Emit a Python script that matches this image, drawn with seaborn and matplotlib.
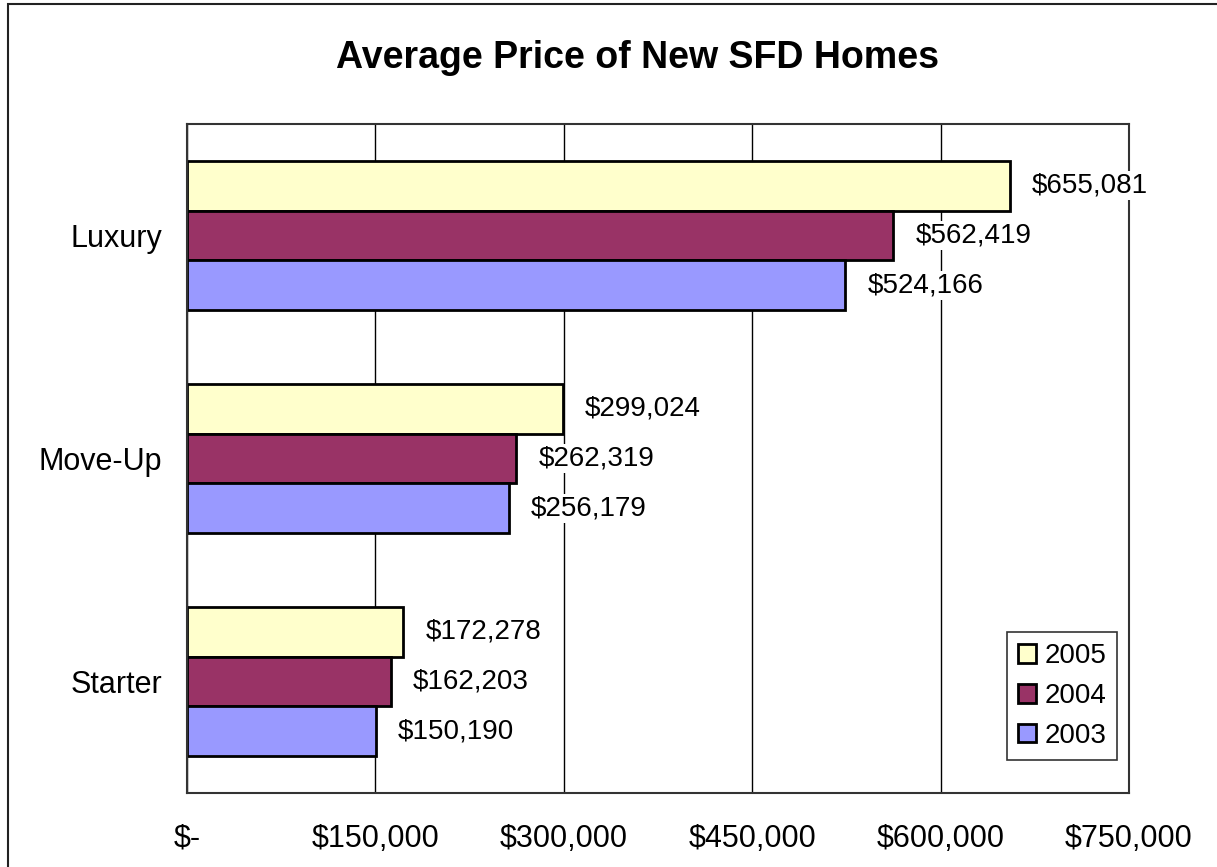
import numpy as np
import pandas as pd
import seaborn as sns
import matplotlib.pyplot as plt
from matplotlib.patches import Rectangle

# data
home_types = ['Luxury', 'Move-Up', 'Starter']
years = ['2005', '2004', '2003']
price_2005 = [655081, 299024, 172278]
price_2004 = [562419, 262319, 162203]
price_2003 = [524166, 256179, 150190]
x_ticks = [0, 150000, 300000, 450000, 600000, 750000]
x_tick_labels = ['$-', '$150,000', '$300,000', '$450,000', '$600,000', '$750,000']
colors = {'2005': '#FFFFCC', '2004': '#993366', '2003': '#9999FF'}

df = pd.DataFrame({
    'type': home_types * 3,
    'year': ['2005'] * 3 + ['2004'] * 3 + ['2003'] * 3,
    'price': price_2005 + price_2004 + price_2003,
})

sns.set_style('white')
plt.rcParams['font.family'] = ['Liberation Sans', 'DejaVu Sans']
plt.rcParams['text.color'] = 'black'
plt.rcParams['xtick.color'] = 'black'
plt.rcParams['ytick.color'] = 'black'

W, H = 1217, 867
fig = plt.figure(figsize=(W / 100, H / 100), dpi=100)
ax = fig.add_axes([187 / W, 74 / H, 942 / W, 669 / H])

sns.barplot(data=df, x='price', y='type', hue='year', order=home_types,
            hue_order=years, palette=colors, width=0.67, orient='h',
            edgecolor='black', linewidth=2, saturation=1, ax=ax)

ax.set_xlim(0, 750000)
ax.set_xticks(x_ticks)
ax.set_xticklabels(x_tick_labels, fontsize=22)
ax.tick_params(axis='x', length=0, pad=22)
ax.tick_params(axis='y', length=0, pad=18, labelsize=22)
ax.set_xlabel('')
ax.set_ylabel('')
ax.grid(axis='x', color='black', linewidth=1)
ax.set_axisbelow(True)
for s in ax.spines.values():
    s.set_visible(True)
    s.set_color('#333333')
    s.set_linewidth(1.5)

# value labels with white background
for cont, vals in zip(ax.containers, [price_2005, price_2004, price_2003]):
    ax.bar_label(cont, labels=[f'${v:,.0f}' for v in vals], padding=16,
                 fontsize=20, color='black',
                 bbox=dict(facecolor='white', edgecolor='none', pad=1))

handles, labels = ax.get_legend_handles_labels()
ax.legend(handles, labels, loc='upper left', bbox_to_anchor=(1007 / W, 1 - 632 / H),
          bbox_transform=fig.transFigure, borderaxespad=0, fontsize=20,
          handlelength=0.65, handleheight=0.65, handletextpad=0.3,
          labelspacing=0.5, borderpad=0.4, fancybox=False,
          edgecolor='#333333', framealpha=1)
ax.get_legend().get_frame().set_linewidth(1.2)

fig.text(638 / W, 1 - 58 / H, 'Average Price of New SFD Homes', ha='center',
         va='center', fontsize=27, fontweight='bold', color='black')

# outer chart border
fig.patches.append(Rectangle((8 / W, -0.05), 1.0, (H - 4) / H + 0.05,
                             transform=fig.transFigure, fill=False,
                             edgecolor='#222222', linewidth=1.5))

fig.savefig('out.png', dpi=100)
